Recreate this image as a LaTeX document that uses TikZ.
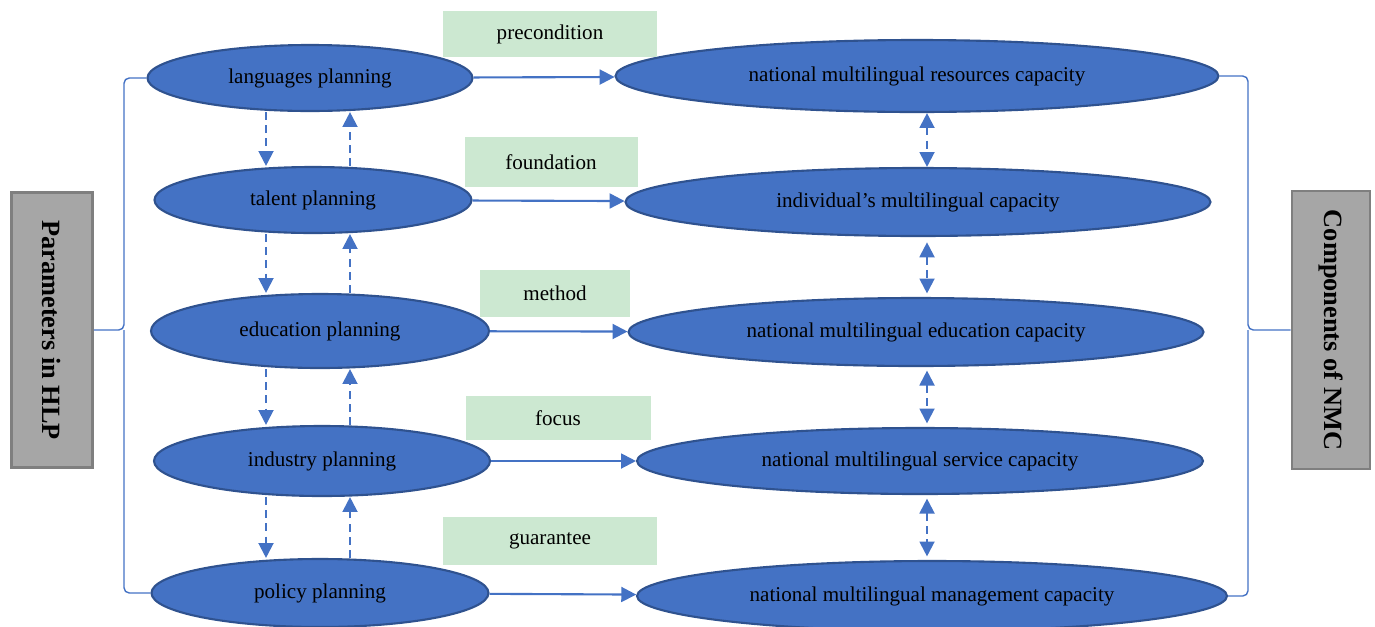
\documentclass[tikz,border=0pt]{standalone}
\usepackage{fontspec}
\setmainfont{Liberation Serif}
\usetikzlibrary{calc,shapes.geometric,arrows.meta}

\definecolor{blu}{HTML}{4472C4}
\definecolor{bluedge}{HTML}{2F528F}
\definecolor{verde}{HTML}{CCE8D1}
\definecolor{grigio}{HTML}{A6A6A6}
\definecolor{grigioedge}{HTML}{7F7F7F}

\tikzset{
  size/.style 2 args={minimum width=#1*0.02cm,minimum height=#2*0.02cm},
  ell/.style={ellipse,fill=blu,draw=bluedge,line width=1.2pt,inner sep=0pt},
  lab/.style={rectangle,fill=verde,inner sep=0pt},
  side/.style={rectangle,fill=grigio,draw=grigioedge,line width=1.6pt,inner sep=0pt,
               rotate=-90,font=\fontsize{15}{18}\selectfont\bfseries},
  tip/.tip={Triangle[length=8.5pt,width=8.5pt]},
  flow/.style={blu,line width=1.2pt,-tip},
  dflow/.style={flow,dash pattern=on 4.5pt off 3pt},
  bflow/.style={dflow,tip-tip},
  brace/.style={blu,line width=0.8pt,rounded corners=3pt},
}

\begin{document}
\begin{tikzpicture}[x=0.02cm,y=-0.02cm,font=\fontsize{12}{14}\selectfont]
    \useasboundingbox (0,0) rectangle (1375,626);
    % ellissi a sinistra
    \node [ell,size={325}{66}] (lang) at (310,78) {languages planning};
    \node [ell,size={317}{66}] (tal)  at (313,200) {talent planning};
    \node [ell,size={338}{74}] (edu)  at (320,331) {education planning};
    \node [ell,size={336}{70}] (ind)  at (322,461) {industry planning};
    \node [ell,size={337}{68}] (pol)  at (320,593) {policy planning};
    % ellissi a destra
    \node [ell,size={603}{72}] (res)   at (917,76) {national multilingual resources capacity};
    \node [ell,size={585}{68}] (indiv) at (918,202) {individual’s multilingual capacity};
    \node [ell,size={575}{68}] (medu)  at (916,332) {national multilingual education capacity};
    \node [ell,size={566}{66}] (serv)  at (920,461) {national multilingual service capacity};
    \node [ell,size={590}{70}] (man)   at (932,596) {national multilingual management capacity};
    % etichette verdi
    \node [lab,size={214}{46}] (pre) at (550,34) {precondition};
    \node [lab,size={173}{50}] (fou) at (551,162) {foundation};
    \node [lab,size={150}{47}] (met) at (555,293) {method};
    \node [lab,size={185}{44}] (foc) at (558,418) {focus};
    \node [lab,size={214}{48}] (gua) at (550,541) {guarantee};
    % riquadri grigi
    \node [side,size={275}{81}] (param) at (52,330) {Parameters in HLP};
    \node [side,size={278}{78}] (comp)  at (1331,330) {Components of NMC};
    % frecce orizzontali
    \draw [flow] (lang) -- (res);
    \draw [flow] (tal) -- (indiv);
    \draw [flow] (edu) -- (medu);
    \draw [flow] (ind) -- (serv);
    \draw [flow] (pol) -- (man);
    % frecce tratteggiate a sinistra
    \coordinate (dn) at (266,0);
    \coordinate (up) at (350,0);
    \draw [dflow] (lang.south -| dn) -- (tal.north -| dn);
    \draw [dflow] (tal.south -| dn) -- (edu.north -| dn);
    \draw [dflow] (edu.south -| dn) -- (ind.north -| dn);
    \draw [dflow] (ind.south -| dn) -- (pol.north -| dn);
    \draw [dflow] (tal.north -| up) -- (lang.south -| up);
    \draw [dflow] (edu.north -| up) -- (tal.south -| up);
    \draw [dflow] (ind.north -| up) -- (edu.south -| up);
    \draw [dflow] (pol.north -| up) -- (ind.south -| up);
    % frecce doppie a destra
    \coordinate (bi) at (927,0);
    \draw [bflow] (res.south -| bi) -- (indiv.north -| bi);
    \draw [bflow,shorten <=3pt,shorten >=2pt] (indiv.south -| bi) -- (medu.north -| bi);
    \draw [bflow,shorten <=2pt,shorten >=2pt] (medu.south -| bi) -- (serv.north -| bi);
    \draw [bflow,shorten <=2pt,shorten >=2pt] (serv.south -| bi) -- (man.north -| bi);
    % parentesi
    \coordinate (ltip) at (124,330);
    \coordinate (rtip) at (1248,330);
    \draw [brace] (lang.west) -| (ltip) -- (param.north);
    \draw [brace] (pol.west) -| (ltip);
    \draw [brace] (res.east) -| (rtip) -- (comp.south);
    \draw [brace] (man.east) -| (rtip);
\end{tikzpicture}
\end{document}
